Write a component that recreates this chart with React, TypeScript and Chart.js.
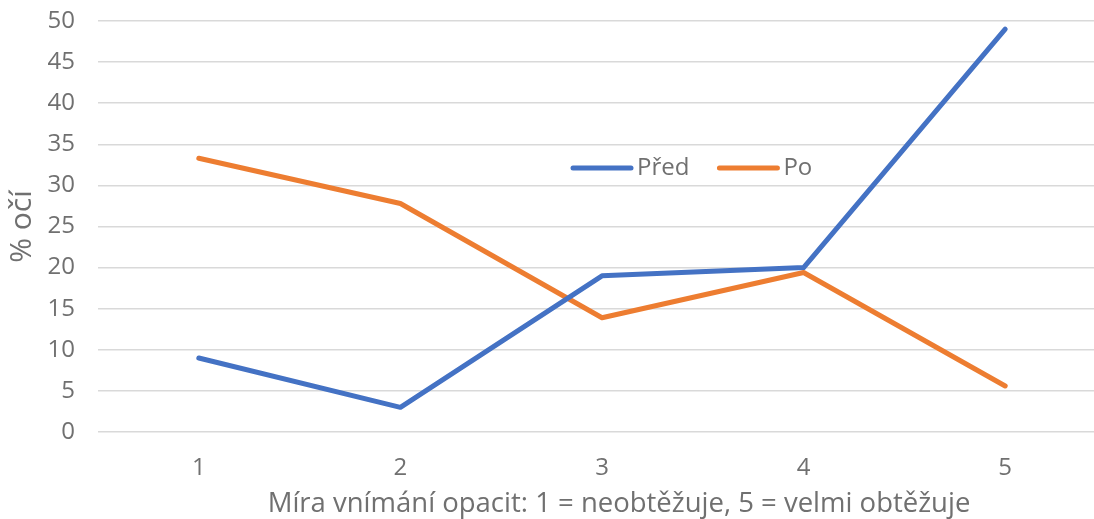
import React, { useEffect, useRef } from "react";
import { Chart, registerables } from "chart.js";

Chart.register(...registerables);

const categories = ["1", "2", "3", "4", "5"];
const predValues = [9, 3, 19, 20, 49];
const poValues = [33.3, 27.8, 13.9, 19.4, 5.6];
const seriesNames = ["Před", "Po"];
const yTitle = "% očí";
const xTitle = "Míra vnímání opacit: 1 = neobtěžuje, 5 = velmi obtěžuje";

const FONT = "'Open Sans', 'Noto Sans', sans-serif";
const TEXT = "#707070";

const legendPlugin = {
  id: "innerLegend",
  afterDraw(chart: any) {
    const ctx = chart.ctx;
    const startX = 571;
    const y = 168;
    const lineLen = 62;
    let x = startX;
    ctx.save();
    ctx.font = `24px ${FONT}`;
    ctx.textBaseline = "middle";
    ctx.textAlign = "left";
    chart.data.datasets.forEach((ds: any) => {
      ctx.strokeStyle = ds.borderColor;
      ctx.lineWidth = 5;
      ctx.lineCap = "round";
      ctx.beginPath();
      ctx.moveTo(x + 2, y);
      ctx.lineTo(x + lineLen - 2, y);
      ctx.stroke();
      ctx.fillStyle = TEXT;
      ctx.fillText(ds.label, x + lineLen + 4, y);
      x += lineLen + 4 + ctx.measureText(ds.label).width + 28;
    });
    // x-axis title
    ctx.font = `27.5px ${FONT}`;
    ctx.textAlign = "center";
    ctx.textBaseline = "alphabetic";
    ctx.fillStyle = TEXT;
    ctx.fillText(xTitle, 619, 512);
    ctx.restore();
  },
};

export default function App() {
  const ref = useRef<HTMLCanvasElement>(null);
  useEffect(() => {
    const chart = new Chart(ref.current!, {
      type: "line",
      data: {
        labels: categories,
        datasets: [
          {
            label: seriesNames[0],
            data: predValues,
            borderColor: "#4472C4",
            backgroundColor: "#4472C4",
            borderWidth: 5,
            borderCapStyle: "round",
            borderJoinStyle: "round",
            pointRadius: 0,
            tension: 0,
          },
          {
            label: seriesNames[1],
            data: poValues,
            borderColor: "#ED7D31",
            backgroundColor: "#ED7D31",
            borderWidth: 5,
            borderCapStyle: "round",
            borderJoinStyle: "round",
            pointRadius: 0,
            tension: 0,
          },
        ],
      },
      options: {
        animation: false,
        responsive: false,
        layout: { padding: { top: 21, left: 0, right: 0, bottom: 0 } },
        plugins: {
          legend: { display: false },
          tooltip: { enabled: false },
        },
        scales: {
          x: {
            offset: true,
            grid: { display: false },
            border: { display: false },
            ticks: { color: TEXT, font: { family: FONT, size: 24 }, padding: 14 },
            title: { display: false, text: xTitle },
            afterFit: (s: any) => {
              s.height = 87;
              s.paddingTop = 0;
              s.paddingBottom = 0;
            },
          },
          y: {
            min: 0,
            max: 50,
            ticks: { stepSize: 5, color: TEXT, font: { family: FONT, size: 24 }, padding: 23 },
            grid: { color: "#d9d9d9", lineWidth: 1.5, drawTicks: false },
            border: { display: false },
            title: {
              display: true,
              text: yTitle,
              color: TEXT,
              font: { family: FONT, size: 30 },
              padding: { top: 4, bottom: 0 },
            },
            afterFit: (s: any) => {
              s.width = 98;
              s.paddingTop = 0;
              s.paddingBottom = 0;
            },
          },
        },
      },
      plugins: [legendPlugin],
    });
    return () => chart.destroy();
  }, []);
  return (
    <div style={{ position: "absolute", left: 0, top: 0, width: 1094, height: 519, overflow: "hidden", background: "#fff" }}>
      <canvas ref={ref} width={1106} height={519} style={{ width: 1106, height: 519, display: "block" }} />
    </div>
  );
}
